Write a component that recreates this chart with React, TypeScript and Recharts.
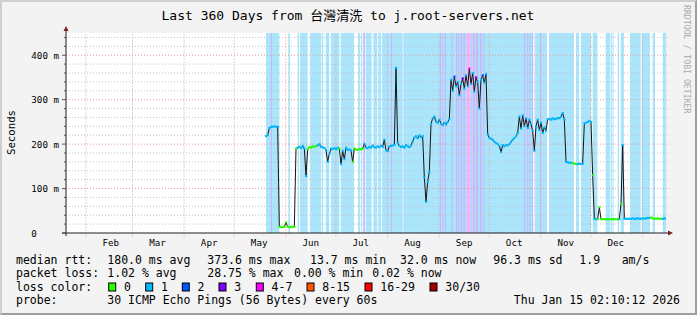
import React from "react";
import {
  ComposedChart,
  Line,
  Scatter,
  XAxis,
  YAxis,
  ReferenceArea,
  ReferenceLine,
  ReferenceDot,
} from "recharts";

// ---------- data ----------
const TOTAL_DAYS = 360;
const Y_MAX = 450;

// day offsets (from Jan 20 2025 02:10) of the first day of each month
const monthStarts = [11.9, 39.9, 70.9, 100.9, 131.9, 161.9, 192.9, 223.9, 253.9, 284.9, 314.9, 345.9];
const monthLabels = ["Feb", "Mar", "Apr", "May", "Jun", "Jul", "Aug", "Sep", "Oct", "Nov", "Dec"];

const yMajorTicks = [0, 100, 200, 300, 400];
const yTickLabels = ["0", "100 m", "200 m", "300 m", "400 m"];
const yMinorTicks = [20, 40, 60, 80, 120, 140, 160, 180, 220, 240, 260, 280, 320, 340, 360, 380, 420, 440];

// median rtt (ms), one value per day starting at day 120
const FIRST_DAY = 120;
const medianRtt = [
  218, 220, 236, 239, 239, 240, 239, 239,
  14, 14, 13, 14, 24, 14, 13, 14, 14, 14,
  190, 192, 194, 191, 196, 190, 128, 188, 193, 192,
  195, 194, 196, 197, 200, 194, 193, 191, 186, 160,
  178, 190, 189, 191, 188, 192, 190, 155, 185, 166,
  192, 187, 188, 186, 160, 190, 188, 187, 189, 188,
  190, 201, 192, 191, 194, 192, 197, 193, 192, 195,
  193, 196, 194, 210, 186, 184, 195, 196, 197, 198,
  372, 202, 196, 193, 195, 192, 198, 195, 193, 197,
  206, 215, 218, 213, 220, 215, 218, 125, 70, 115,
  138, 245, 258, 262, 250, 248, 255, 246, 243, 248,
  244, 250, 256, 345, 320, 352, 330, 340, 310, 335,
  348, 325, 355, 330, 370, 335, 360, 318, 350, 340,
  280, 345, 355, 338, 358, 222, 214, 212, 210, 205,
  202, 200, 196, 182, 198, 195, 198, 197, 200, 205,
  210, 214, 218, 225, 262, 235, 265, 240, 258, 236,
  255, 245, 230, 185, 240, 255, 232, 248, 225, 238,
  230, 256, 257, 255, 258, 256, 257, 259, 258, 262,
  270, 255, 160, 159, 158, 158, 157, 156, 155, 155,
  156, 155, 156, 247, 248, 250, 252, 250, 130, 32,
  31, 31, 58, 31, 31, 31, 31, 31, 31, 31,
  31, 31, 31, 31, 31, 66, 198, 32, 32, 32,
  32, 32, 33, 32, 32, 33, 32, 32, 33, 32,
  33, 34, 34, 35, 33, 32, 32, 33, 32, 32,
  32, 33, 32,
];

// packet-loss level of the median (default level 1)
const lossRangeFrom = [128, 145, 164, 172, 233, 238, 242, 246, 250, 304, 316, 319, 333, 351];
const lossRangeTo = [138, 150, 164, 178, 233, 238, 242, 246, 250, 306, 316, 331, 333, 357];
const lossRangeLevel = [0, 0, 0, 0, 2, 3, 4, 3, 2, 0, 0, 0, 0, 0];

// loss background bands (day ranges)
const bgFrom = [
  120.0, 133.4, 139.0, 140.4, 146.4, 153.4, 155.8, 159.0, 164.8, 175.2, 177.0, 178.4, 179.8, 184.4,
  187.4, 189.6, 202.4, 281.2, 289.8, 306.0, 309.0, 316.0, 323.8, 326.8, 328.0, 331.0, 332.8, 338.4,
  345.4, 352.0, 358.0,
];
const bgTo = [
  128.0, 134.4, 139.8, 145.0, 153.0, 154.4, 158.0, 164.0, 172.8, 176.4, 177.8, 179.4, 183.4, 186.8,
  189.0, 202.0, 280.4, 288.6, 304.8, 307.8, 315.0, 318.8, 326.4, 327.6, 328.6, 331.8, 334.8, 344.8,
  350.4, 353.4, 360.0,
];
const bgLevel = [
  1, 1, 1, 1, 1, 1, 1, 1, 1, 1, 1, 3, 1, 1,
  1, 1, 1, 1, 1, 1, 1, 1, 1, 1, 1, 1, 1, 1,
  1, 1, 1,
];
// narrow higher-loss stripes on top of the bands
const stripeFrom = [
  123.0, 195.0, 224.4, 226.0, 227.4, 231.4, 234.0, 235.4, 236.8, 238.4, 240.4, 243.0, 244.4, 246.0,
  248.4, 250.4, 274.8, 276.4, 278.0, 279.6, 284.4,
];
const stripeTo = [
  123.6, 195.6, 225.0, 226.6, 228.0, 232.0, 234.8, 236.0, 237.6, 239.4, 242.4, 244.0, 245.4, 247.4,
  249.4, 251.0, 275.4, 277.0, 278.6, 280.2, 285.0,
];
const stripeLevel = [3, 3, 3, 3, 3, 3, 3, 3, 3, 3, 4, 4, 3, 3, 3, 3, 3, 3, 3, 3, 3];

const lossColors = ["#26ff00", "#00b8ff", "#0059ff", "#7e00ff", "#ff00ff", "#ff5500", "#ff0000", "#a00000"];
const lossLabels = ["0", "1", "2", "3", "4-7", "8-15", "16-29", "30/30"];
const bgColors: Record<number, string> = { 1: "#aae5fc", 2: "#b2c6fb", 3: "#c6b8fa", 4: "#f2b4f6" };

const legendRtt: [number, string][] = [
  [16, "median rtt:"], [107.3, "180.0 ms avg"], [207.3, "373.6 ms max"], [310, "13.7 ms min"],
  [400, "32.0 ms now"], [493.3, "96.3 ms sd"], [579.3, "1.9"], [621.7, "am/s"],
];
const legendLoss: [number, string][] = [
  [16, "packet loss:"], [107.3, "1.02 % avg"], [207.3, "28.75 % max"], [294, "0.00 % min"], [372.3, "0.02 % now"],
];
const lossBoxX = [108.7, 145.7, 182.3, 219, 256.3, 307, 365, 430];
const probeText = "30 ICMP Echo Pings (56 Bytes) every 60s";
const dateText = "Thu Jan 15 02:10:12 2026";
const titleText = "Last 360 Days from 台灣清洗 to j.root-servers.net";

// ---------- derived ----------
function lossFor(day: number): number {
  for (let i = 0; i < lossRangeFrom.length; i++) {
    if (day >= lossRangeFrom[i] && day <= lossRangeTo[i]) return lossRangeLevel[i];
  }
  return 1;
}
const chartData = medianRtt.map((v, i) => ({ day: FIRST_DAY + i, rtt: v, loss: lossFor(FIRST_DAY + i) }));
const monthLabelDays = monthLabels.map((_, i) => monthStarts[i] + 15);

const FONT = "'DejaVu Sans Mono', 'Noto Sans CJK TC', monospace";
const MAJOR = "#e29a9a";
const MINOR = "#c2c2c2";
const AXIS = "#1f1f1f";
const ARROW = "#801f1f";

function YTick(props: any) {
  const { y, payload } = props;
  const v = payload.value;
  const idx = yMajorTicks.indexOf(v);
  const major = idx >= 0;
  const label = major ? yTickLabels[idx] : "";
  const shift = (5 - label.length) * 5.55;
  return (
    <g>
      <line x1={major ? 62 : 64} x2={66} y1={y} y2={y} stroke="#555" strokeWidth={1} />
      {major && (
        <text x={59 - shift} y={y + 3.5} textAnchor="end" fontFamily={FONT} fontSize={9.2} fill="#000">
          {label}
        </text>
      )}
    </g>
  );
}

function XTick(props: any) {
  const { x, index } = props;
  return (
    <text x={x} y={246} textAnchor="middle" fontFamily={FONT} fontSize={9.2} fill="#000">
      {monthLabels[index]}
    </text>
  );
}

function MedianDot(p: any) {
  if (p.cx == null || p.cy == null) return <g />;
  return <rect x={p.cx - 1} y={p.cy - 1} width={2.2} height={2} fill={lossColors[p.payload.loss]} />;
}

export default function App() {
  return (
    <div
      style={{
        position: "absolute",
        left: 0,
        top: 0,
        width: 697,
        height: 315,
        background: "#f3f3f3",
        boxSizing: "border-box",
        borderTop: "2px solid #cfcfcf",
        borderLeft: "2px solid #cfcfcf",
        borderBottom: "2px solid #9e9e9e",
        borderRight: "2px solid #9e9e9e",
        overflow: "hidden",
      }}
    >
      <div style={{ position: "absolute", left: -2, top: -2 }}>
        <ComposedChart
          width={697}
          height={315}
          data={chartData}
          margin={{ top: 33, right: 31, bottom: 62, left: 0 }}
        >
          <XAxis
            dataKey="day"
            type="number"
            domain={[0, TOTAL_DAYS]}
            allowDataOverflow
            ticks={monthLabelDays}
            interval={0}
            height={20}
            axisLine={{ stroke: AXIS }}
            tickLine={false}
            tick={<XTick />}
          />
          <YAxis
            type="number"
            domain={[0, Y_MAX]}
            allowDataOverflow
            ticks={[...yMajorTicks, ...yMinorTicks].sort((a, b) => a - b)}
            interval={0}
            width={66}
            axisLine={{ stroke: AXIS }}
            tickLine={false}
            tick={<YTick />}
          />
          <ReferenceArea x1={0} x2={TOTAL_DAYS} y1={0} y2={Y_MAX} fill="#ffffff" fillOpacity={1} stroke="none" zIndex={40} />
          {bgFrom.map((f, i) => (
            <ReferenceArea
              key={"bg" + i}
              x1={f}
              x2={bgTo[i]}
              y1={0}
              y2={Y_MAX}
              fill={bgColors[bgLevel[i]]}
              fillOpacity={1}
              stroke="none"
              zIndex={50}
            />
          ))}
          {stripeFrom.map((f, i) => (
            <ReferenceArea
              key={"st" + i}
              x1={f}
              x2={stripeTo[i]}
              y1={0}
              y2={Y_MAX}
              fill={bgColors[stripeLevel[i]]}
              fillOpacity={1}
              stroke="none"
              zIndex={55}
            />
          ))}
          {yMinorTicks.map((v) => (
            <ReferenceLine
              key={"ymin" + v}
              segment={[{ x: 0, y: v }, { x: 362, y: v }]}
              stroke={MINOR}
              strokeDasharray="1 2"
              ifOverflow="visible"
              zIndex={60}
            />
          ))}
          {yMajorTicks.filter((v) => v > 0).map((v) => (
            <ReferenceLine
              key={"ymaj" + v}
              segment={[{ x: 0, y: v }, { x: 362, y: v }]}
              stroke={MAJOR}
              strokeDasharray="1 2"
              ifOverflow="visible"
              zIndex={61}
            />
          ))}
          {monthStarts.map((m) => (
            <ReferenceLine
              key={"m" + m}
              segment={[{ x: m, y: -8 }, { x: m, y: Y_MAX }]}
              stroke={MAJOR}
              strokeDasharray="1 2"
              ifOverflow="visible"
              zIndex={61}
            />
          ))}
          <Line
            type="linear"
            dataKey="rtt"
            stroke="#151515"
            strokeWidth={1}
            dot={false}
            activeDot={false}
            isAnimationActive={false}
          />
          <Scatter dataKey="rtt" shape={MedianDot} isAnimationActive={false} />
          <ReferenceDot
            x={TOTAL_DAYS}
            y={0}
            ifOverflow="visible"
            zIndex={700}
            shape={(p: any) => (
              <g>
                <line x1={p.cx} x2={p.cx + 3} y1={p.cy} y2={p.cy} stroke={AXIS} />
                <polygon points={`${p.cx + 2},${p.cy - 2.5} ${p.cx + 7},${p.cy} ${p.cx + 2},${p.cy + 2.5}`} fill={ARROW} />
              </g>
            )}
          />
          <ReferenceDot
            x={0}
            y={Y_MAX}
            ifOverflow="visible"
            zIndex={700}
            shape={(p: any) => (
              <g>
                <line x1={p.cx} x2={p.cx} y1={p.cy} y2={p.cy - 3} stroke={AXIS} />
                <polygon points={`${p.cx - 2.5},${p.cy - 2} ${p.cx},${p.cy - 7} ${p.cx + 2.5},${p.cy - 2}`} fill={ARROW} />
              </g>
            )}
          />
          <ReferenceDot
            x={0}
            y={0}
            ifOverflow="visible"
            zIndex={700}
            shape={(p: any) => (
              <g>
                <line x1={p.cx - 4} x2={p.cx} y1={p.cy} y2={p.cy} stroke={AXIS} />
                <line x1={p.cx} x2={p.cx} y1={p.cy} y2={p.cy + 3} stroke={AXIS} />
              </g>
            )}
          />
        </ComposedChart>
      </div>
      <svg
        width={697}
        height={315}
        style={{ position: "absolute", left: -2, top: -2, pointerEvents: "none" }}
        fontFamily={FONT}
      >
        <text x={348} y={19.5} fontSize={13} textAnchor="middle" fill="#000">
          {titleText}
        </text>
        <text transform="translate(15,132.5) rotate(-90)" fontSize={10.7} textAnchor="middle" fill="#000">
          Seconds
        </text>
        <text transform="translate(683.5,5) rotate(90)" fontSize={8.2} fill="#ababab">
          RRDTOOL / TOBI OETIKER
        </text>
        {legendRtt.map(([x, t]) => (
          <text key={"r" + x} x={x} y={263.5} fontSize={11.5} fill="#000">
            {t}
          </text>
        ))}
        {legendLoss.map(([x, t]) => (
          <text key={"l" + x} x={x} y={277} fontSize={11.5} fill="#000">
            {t}
          </text>
        ))}
        <text x={16} y={290.5} fontSize={11.5} fill="#000">
          loss color:
        </text>
        {lossBoxX.map((x, i) => (
          <g key={"lb" + i}>
            <rect x={x} y={283} width={7} height={8} fill={lossColors[i]} stroke="#000" strokeWidth={1} />
            <text x={x + 15.3} y={290.5} fontSize={11.5} fill="#000">
              {lossLabels[i]}
            </text>
          </g>
        ))}
        <text x={16} y={304} fontSize={11.5} fill="#000">
          probe:
        </text>
        <text x={107.3} y={304} fontSize={11.5} fill="#000">
          {probeText}
        </text>
        <text x={680} y={304} fontSize={11.5} textAnchor="end" fill="#000">
          {dateText}
        </text>
      </svg>
    </div>
  );
}
